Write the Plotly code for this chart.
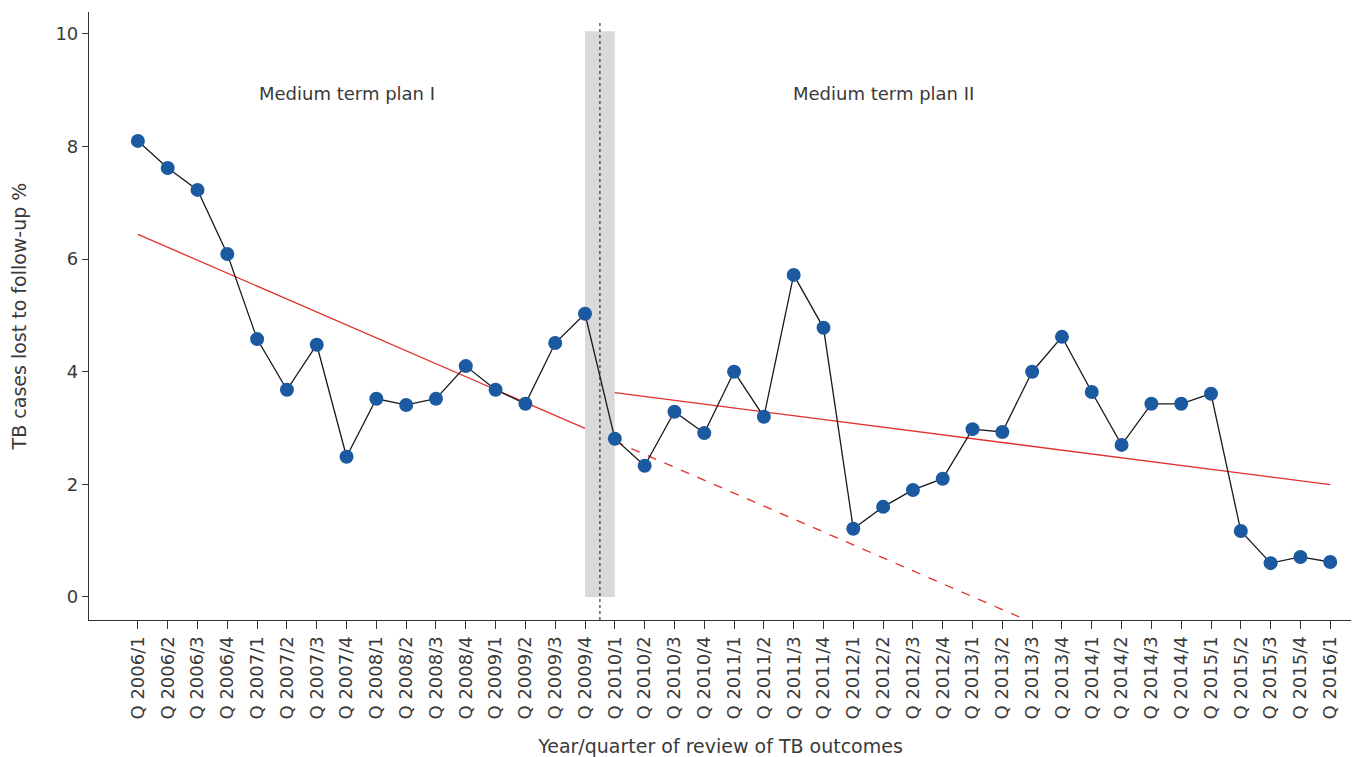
import numpy as np
import plotly.graph_objects as go

quarters = ["Q 2006/1","Q 2006/2","Q 2006/3","Q 2006/4","Q 2007/1","Q 2007/2","Q 2007/3","Q 2007/4",
            "Q 2008/1","Q 2008/2","Q 2008/3","Q 2008/4","Q 2009/1","Q 2009/2","Q 2009/3","Q 2009/4",
            "Q 2010/1","Q 2010/2","Q 2010/3","Q 2010/4","Q 2011/1","Q 2011/2","Q 2011/3","Q 2011/4",
            "Q 2012/1","Q 2012/2","Q 2012/3","Q 2012/4","Q 2013/1","Q 2013/2","Q 2013/3","Q 2013/4",
            "Q 2014/1","Q 2014/2","Q 2014/3","Q 2014/4","Q 2015/1","Q 2015/2","Q 2015/3","Q 2015/4",
            "Q 2016/1"]
lost_pct = [8.10, 7.62, 7.23, 6.09, 4.58, 3.68, 4.48, 2.49, 3.52, 3.41, 3.52, 4.10, 3.68, 3.43, 4.51, 5.03,
            2.81, 2.33, 3.29, 2.91, 4.00, 3.20, 5.72, 4.78, 1.21, 1.60, 1.90, 2.10, 2.98, 2.93, 4.00, 4.62,
            3.64, 2.70, 3.43, 3.43, 3.61, 1.17, 0.60, 0.71, 0.62]
plan_labels = ["Medium term plan I", "Medium term plan II"]
plan1_end = 15   # last index of plan I
plan2_start = 16 # first index of plan II

x = np.arange(len(quarters))
y = np.array(lost_pct)

# linear trends fitted per period
p1 = np.polyfit(x[:plan1_end + 1], y[:plan1_end + 1], 1)
p2 = np.polyfit(x[plan2_start:], y[plan2_start:], 1)
x1 = np.array([0, plan1_end])
x2 = np.array([plan2_start, len(quarters) - 1])
x1ext = np.linspace(plan2_start, 32, 50)

RED = "#e2302b"
BLUE = "#1b5aa0"
TXT = "#3a3a3a"
FONT = "DejaVu Sans"

fig = go.Figure()
fig.add_shape(type="rect", x0=plan1_end, x1=plan2_start, y0=0, y1=10.05,
              fillcolor="#d9d9db", line_width=0, layer="below")
fig.add_shape(type="line", x0=(plan1_end + plan2_start) / 2, x1=(plan1_end + plan2_start) / 2,
              y0=-0.41, y1=10.25, line=dict(color="#333", width=1.2, dash="dot"), layer="below")

fig.add_trace(go.Scatter(x=x1, y=np.polyval(p1, x1), mode="lines",
                         line=dict(color=RED, width=1.3), hoverinfo="skip"))
fig.add_trace(go.Scatter(x=x1ext, y=np.polyval(p1, x1ext), mode="lines",
                         line=dict(color=RED, width=1.3, dash="dash"), hoverinfo="skip"))
fig.add_trace(go.Scatter(x=x2, y=np.polyval(p2, x2), mode="lines",
                         line=dict(color=RED, width=1.3), hoverinfo="skip"))
fig.add_trace(go.Scatter(x=x, y=y, mode="lines+markers",
                         line=dict(color="#1a1a1a", width=1.3),
                         marker=dict(color=BLUE, size=14, line=dict(width=0))))

fig.add_annotation(x=7, y=8.95, text=plan_labels[0], showarrow=False,
                   font=dict(size=18, color=TXT, family=FONT))
fig.add_annotation(x=25, y=8.95, text=plan_labels[1], showarrow=False,
                   font=dict(size=18, color=TXT, family=FONT))

# page body has an 8px margin in the browser; size the figure to the visible area
fig.update_layout(
    width=1351, height=749,
    margin=dict(l=81, r=7, t=4, b=137),
    plot_bgcolor="white", paper_bgcolor="white",
    showlegend=False,
    font=dict(family=FONT, color=TXT, size=17),
)
fig.update_xaxes(range=[-1.64, 40.73], tickvals=list(x), ticktext=quarters, tickangle=-90,
                 showgrid=False, zeroline=False, showline=True, linecolor="#333", linewidth=1.2,
                 ticks="outside", ticklen=8, tickcolor="#333", tickfont=dict(size=18), automargin=False,
                 title=dict(text="Year/quarter of review of TB outcomes", font=dict(size=19), standoff=21))
fig.update_yaxes(range=[-0.41, 10.39], tickvals=[0, 2, 4, 6, 8, 10],
                 showgrid=False, zeroline=False, showline=True, linecolor="#333", linewidth=1.2,
                 ticks="outside", ticklen=6, tickcolor="#333", tickfont=dict(size=18), automargin=False,
                 title=dict(text="TB cases lost to follow-up %", font=dict(size=19), standoff=25))

fig.write_html("out.html")
